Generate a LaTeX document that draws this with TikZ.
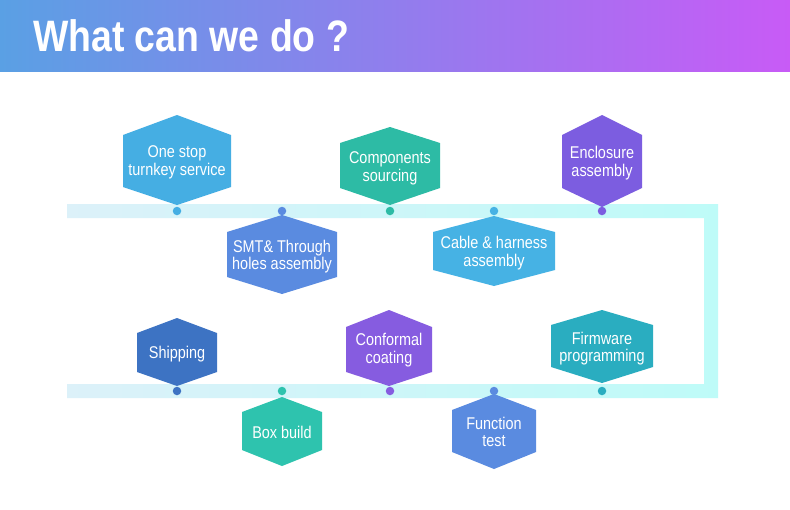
\documentclass[tikz,border=0pt]{standalone}
\usepackage{fontspec}
\setmainfont{Liberation Sans}
\usepackage{graphicx}
\definecolor{hL}{HTML}{5AA0E4}
\definecolor{hR}{HTML}{C85BF6}
\definecolor{bL}{HTML}{DCF1F9}
\definecolor{bR}{HTML}{BEFBF8}
\definecolor{cA}{HTML}{45AEE3}
\definecolor{cB}{HTML}{2DBBA5}
\definecolor{cC}{HTML}{7C5DE0}
\definecolor{cD}{HTML}{5A8BE0}
\definecolor{cE}{HTML}{46B2E4}
\definecolor{cF}{HTML}{3D73C3}
\definecolor{cG}{HTML}{2EC3AE}
\definecolor{cH}{HTML}{865CE0}
\definecolor{cI}{HTML}{5A8BE0}
\definecolor{cJ}{HTML}{2AADC0}
\newcommand\sqtext[1]{\scalebox{0.85}[1]{\fontsize{17}{17.5}\selectfont\begin{tabular}{@{}c@{}}#1\end{tabular}}}
% #1 name, #2 colour, #3 cx, #4 top, #5 bottom, #6 half width, #7 side top, #8 side bottom, #9 text
\newcommand\hexnode[9]{%
  \fill[#2] (#3,#4) -- (#3+#6,#7) -- (#3+#6,#8) -- (#3,#5) -- (#3-#6,#8) -- (#3-#6,#7) -- cycle;
  \node[hextext] (#1) at (#3,{(#4+#5)/2}) {\sqtext{#9}};
}
\tikzset{
  hextext/.style={text=white, inner sep=0pt, align=center, yshift=-3pt},
  dotnode/.style={circle, inner sep=0pt, minimum size=8.5pt},
}
\begin{document}
\begin{tikzpicture}[x=1pt,y=-1pt]
\useasboundingbox (0,0) rectangle (790,509);
\fill[white] (0,0) rectangle (790,509);
% header
\shade[left color=hL, right color=hR] (0,0) rectangle (790,71);
\node[anchor=base west, inner sep=0pt, text=white] (title) at (33,51)
  {\scalebox{0.85}[1]{\fontsize{44}{48}\selectfont\bfseries What can we do ?}};
% timeline band
\shade[left color=bL, right color=bR]
  (67,204) -- (718,204) -- (718,398) -- (67,398) -- (67,384) -- (704,384) -- (704,218) -- (67,218) -- cycle;
% upper row
\hexnode{onestop}{cA}{177}{115}{205}{54}{135}{187}{One stop\\turnkey service}
\hexnode{comp}{cB}{390}{127}{205}{50}{143}{188}{Components\\sourcing}
\hexnode{encl}{cC}{602}{115}{207}{40}{135}{188}{Enclosure\\assembly}
\hexnode{smt}{cD}{282}{215}{294}{55}{232}{277}{SMT\& Through\\holes assembly}
\hexnode{cable}{cE}{494}{216}{286}{61}{232}{270}{Cable \& harness\\assembly}
% lower row
\hexnode{ship}{cF}{177}{318}{386}{40}{333}{372}{Shipping}
\hexnode{box}{cG}{282}{397}{466}{40}{412}{450}{Box build}
\hexnode{conf}{cH}{389}{310}{386}{43}{327}{372}{Conformal\\coating}
\hexnode{func}{cI}{494}{394}{469}{42}{410}{452}{Function\\test}
\hexnode{firm}{cJ}{602}{310}{383}{51}{325}{367}{Firmware\\programming}
% dots
\node[dotnode, fill=cA] (d1) at (177,211) {};
\node[dotnode, fill=cD] (d2) at (282,211) {};
\node[dotnode, fill=cB] (d3) at (390,211) {};
\node[dotnode, fill=cE] (d4) at (494,211) {};
\node[dotnode, fill=cC] (d5) at (602,211) {};
\node[dotnode, fill=cF] (d6) at (177,391) {};
\node[dotnode, fill=cG] (d7) at (282,391) {};
\node[dotnode, fill=cH] (d8) at (390,391) {};
\node[dotnode, fill=cI] (d9) at (494,391) {};
\node[dotnode, fill=cJ] (d10) at (602,391) {};
\end{tikzpicture}
\end{document}
